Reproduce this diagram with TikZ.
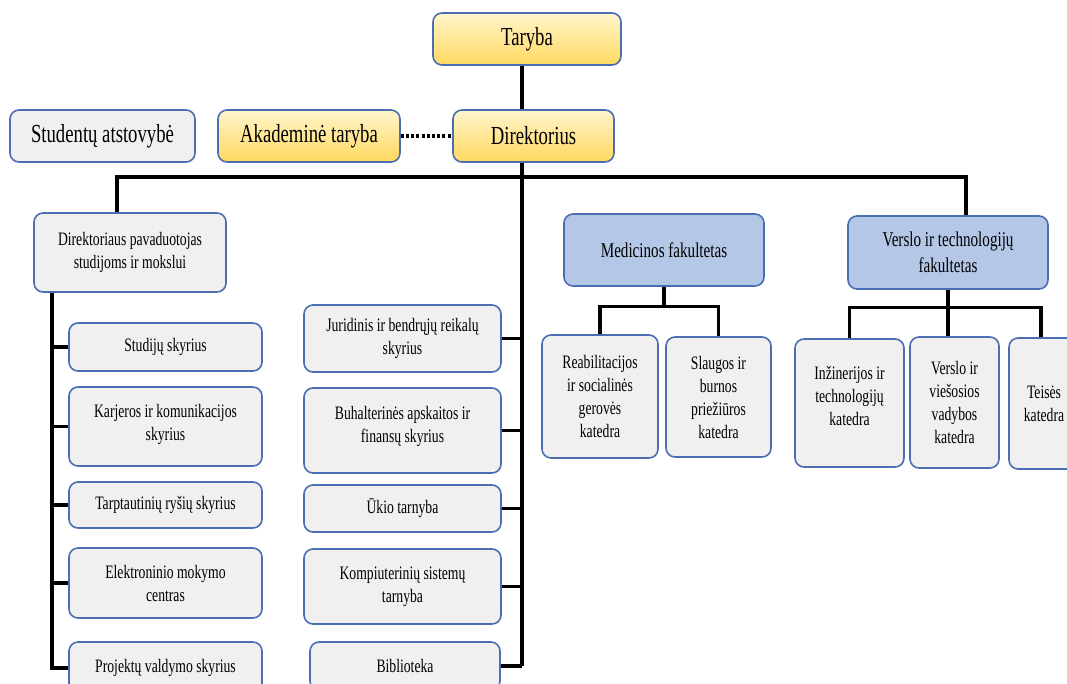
\documentclass[tikz,border=0pt]{standalone}
\usepackage{fontspec}
\setmainfont{Liberation Serif}[FakeStretch=0.72]
\usepackage{tikz}
\usetikzlibrary{positioning}
\definecolor{goldtop}{HTML}{FFF5CC}
\definecolor{goldbot}{HTML}{FFD85F}
\definecolor{boxline}{HTML}{4A6EB0}
\definecolor{greyfill}{HTML}{F0F0F0}
\definecolor{blufill}{HTML}{B4C7E7}

\begin{document}
\begin{tikzpicture}[x=1pt,y=-1pt]
\tikzstyle{unit}=[rectangle, rounded corners=9pt, draw=boxline, line width=1.6pt, align=center, inner sep=2pt, font=\fontsize{19}{23}\selectfont]
\tikzstyle{head}=[unit, top color=goldtop, bottom color=goldbot, font=\fontsize{26}{30}\selectfont, minimum height=52pt]
\tikzstyle{dept}=[unit, fill=greyfill]
\tikzstyle{fac}=[unit, fill=blufill, font=\fontsize{21}{26}\selectfont, minimum width=200pt]
\tikzstyle{connect}=[line width=3.2pt, black]
\useasboundingbox (0,0) rectangle (1067,683);
\clip (0,0) rectangle (1067,683);

	% top
	\node[head, minimum width=188pt] (taryba) at (527,39) {Taryba};
	\node[head, minimum width=161pt] (direkt) at (533.5,136) {Direktorius};
	\node[head, minimum width=182pt] (akad) at (309,136) {Akademinė taryba};
	\node[dept, minimum width=185pt, minimum height=52pt, font=\fontsize{26}{30}\selectfont] (studentai) at (102.5,136) {Studentų atstovybė};
	\coordinate (bus) at (522,177);

	% vice director and his units
	\node[dept, minimum width=192pt, minimum height=79pt] (pavad) at (130,252.5) {Direktoriaus pavaduotojas\\studijoms ir mokslui};
	\node[dept, minimum width=193pt, minimum height=48pt] (studiju) at (165.5,347) {Studijų skyrius};
	\node[dept, minimum width=193pt, minimum height=79pt] (karjeros) at (165.5,426.5) {Karjeros ir komunikacijos\\skyrius\\[-14pt]};
	\node[dept, minimum width=193pt, minimum height=46pt] (tarpt) at (165.5,505) {Tarptautinių ryšių skyrius};
	\node[dept, minimum width=193pt, minimum height=70pt] (elektr) at (165.5,583) {Elektroninio mokymo\\centras};
	\node[dept, minimum width=193pt, minimum height=52pt] (projektu) at (165.5,668) {Projektų valdymo skyrius};

	% units under the director
	\node[dept, minimum width=197pt, minimum height=67pt] (jurid) at (402.5,338.5) {Juridinis ir bendrųjų reikalų\\skyrius};
	\node[dept, minimum width=197pt, minimum height=85pt] (buhalt) at (402.5,430.5) {Buhalterinės apskaitos ir\\finansų skyrius\\[-10pt]};
	\node[dept, minimum width=197pt, minimum height=47pt] (ukio) at (402.5,508.5) {Ūkio tarnyba};
	\node[dept, minimum width=197pt, minimum height=75pt] (kompiut) at (402.5,586.5) {Kompiuterinių sistemų\\tarnyba};
	\node[dept, minimum width=190pt, minimum height=48pt] (biblio) at (405,666) {Biblioteka};

	% faculties
	\node[fac, minimum height=72pt] (medic) at (664,250) {Medicinos fakultetas};
	\node[dept, minimum width=116pt, minimum height=123pt] (reab) at (600,396.5) {Reabilitacijos\\ir socialinės\\gerovės\\katedra};
	\node[dept, minimum width=105pt, minimum height=120pt] (slaug) at (718.5,397) {Slaugos ir\\burnos\\priežiūros\\katedra};
	\node[fac, minimum height=73pt] (verslofak) at (948,252.5) {Verslo ir technologijų\\fakultetas};
	\node[dept, minimum width=109pt, minimum height=128pt] (inzin) at (849.5,403) {Inžinerijos ir\\technologijų\\katedra\\[-9pt]};
	\node[dept, minimum width=89pt, minimum height=131pt] (verslovies) at (954.5,402.5) {Verslo ir\\viešosios\\vadybos\\katedra};
	\node[dept, minimum width=70pt, minimum height=131pt] (teises) at (1044,403.5) {Teisės\\katedra};

	% connectors
	\draw[connect] (taryba.south -| bus) -- (direkt.north -| bus);
	\draw[connect] (direkt.south -| bus) -- (bus |- biblio.east);
	\draw[connect, line cap=butt, dash pattern=on 3pt off 2.2pt] (akad.east) -- (direkt.west);
	\draw[connect] ([xshift=-13pt]pavad.north) |- (bus) -| ([xshift=18pt]verslofak.north);
	\draw[connect] ([xshift=-78pt]pavad.south) |- (projektu.west);
	\foreach \u in {studiju,karjeros,tarpt,elektr}
		\draw[connect] (\u.west) -- (\u.west -| projektu.west) -- ++(-18,0);
	\foreach \u in {jurid,buhalt,ukio,kompiut,biblio}
		\draw[connect] (\u.east) -- (\u.east -| bus);
	\draw[connect] (medic.south) -- ([yshift=-20pt]medic.south);
	\draw[connect] (reab.north) |- ([yshift=-20pt]medic.south) -| (slaug.north);
	\draw[connect] (verslofak.south) -- (verslofak.south |- verslovies.north);
	\draw[connect] (inzin.north) |- ([yshift=-18pt]verslofak.south) -| ([xshift=-3pt]teises.north);

\end{tikzpicture}
\end{document}
